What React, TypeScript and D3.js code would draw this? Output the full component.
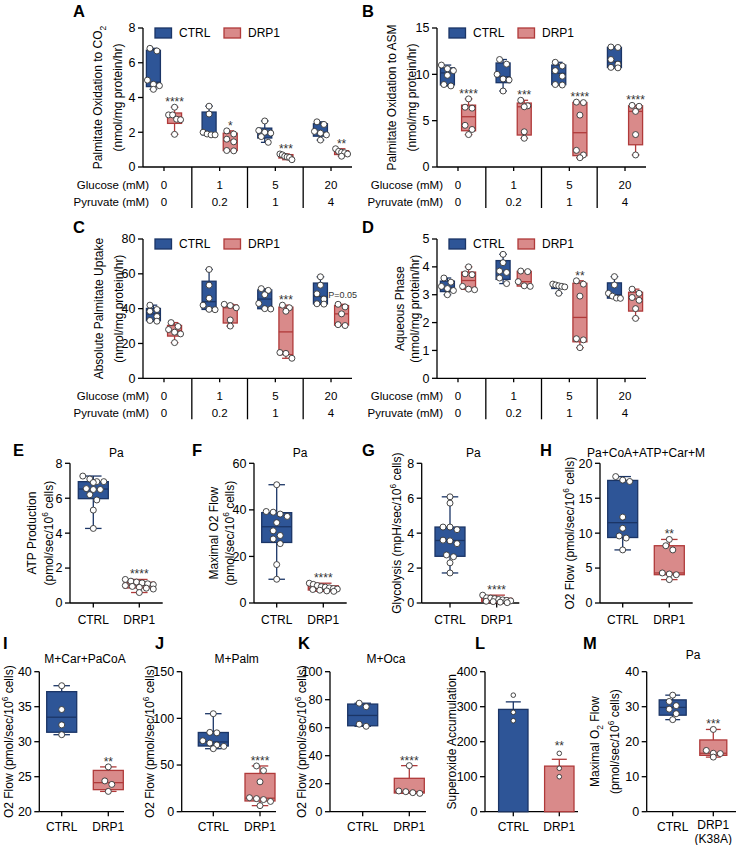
import React from "react";
import * as d3 from "d3";

// ---------------- data ----------------
const glucose = ["0", "1", "5", "20"];
const pyruvate = ["0", "0.2", "1", "4"];
const seriesNames = ["CTRL", "DRP1"];

const aCtrl = [[6.83, 6.68, 5.0, 4.76, 4.68, 4.47], [3.5, 3.05, 2.0, 1.9, 1.85, 1.85], [2.65, 2.1, 2.0, 1.95, 1.75, 1.42], [2.6, 2.45, 2.05, 1.95, 1.85, 1.55]];
const aDrp = [[3.44, 3.0, 3.0, 2.75, 2.72, 1.88], [2.08, 1.9, 1.6, 1.45, 0.95, 0.93], [0.75, 0.7, 0.62, 0.58, 0.55, 0.42], [1.05, 0.9, 0.85, 0.82, 0.75, 0.62]];
const aStars = ["****", "*", "***", "**"];

const bCtrl = [[11.0, 10.6, 10.4, 9.9, 8.9, 8.75], [11.6, 11.1, 10.0, 9.5, 9.4, 8.2], [11.3, 10.9, 10.4, 9.8, 8.9, 8.85], [12.95, 12.9, 11.6, 11.1, 10.75, 10.7]];
const bDrp = [[7.35, 6.45, 6.35, 4.5, 4.05, 3.5], [7.2, 6.6, 6.5, 3.8, 3.1], [7.0, 6.95, 5.6, 1.8, 1.3, 1.0], [6.65, 6.55, 6.0, 3.5, 1.3]];
const bStars = ["****", "***", "****", "****"];

const cCtrl = [[42, 39.5, 38.5, 35.5, 33.2, 32.8], [62.5, 53.5, 46, 42, 39.6, 39.4], [51.5, 50.5, 48, 43, 40, 39.8], [58.3, 53.5, 48.5, 45.5, 42.8, 42.6]];
const cDrp = [[32, 29.8, 28, 26.5, 25.5, 20.5], [42.5, 41.8, 40.5, 33.5, 30.0], [42, 40.5, 38.5, 14.8, 14.3, 11.5], [42.5, 41, 37, 30.8, 30.3]];
const cStars = ["", "", "***", "P=0.05"];

const dCtrl = [[3.6, 3.45, 3.3, 3.22, 3.15, 3.0], [4.45, 4.15, 3.85, 3.8, 3.6, 3.4], [3.38, 3.35, 3.32, 3.3, 3.28, 3.05], [3.65, 3.35, 3.05, 2.95, 2.88, 2.87]];
const dDrp = [[4.0, 3.75, 3.72, 3.3, 3.2, 3.18], [3.85, 3.83, 3.47, 3.32, 3.3], [3.5, 3.38, 2.95, 1.42, 1.38, 1.1], [3.2, 3.05, 2.9, 2.8, 2.5, 2.15]];
const dStars = ["", "", "**", ""];

const eCtrl = [7.27, 7.1, 6.95, 6.95, 6.9, 6.55, 6.5, 6.5, 6.2, 5.9, 5.32, 4.27];
const eDrp = [1.35, 1.25, 1.2, 1.15, 1.1, 1.05, 1.0, 0.95, 0.9, 0.85, 0.8, 0.6];
const fCtrl = [50.8, 39.3, 39, 38.2, 37.2, 34.5, 31, 29, 27.5, 25.5, 16.5, 10.2];
const fDrp = [8.5, 8, 7.5, 7, 6.8, 6.5, 6.2, 6, 5.8, 5.5, 5.2, 5];
const gCtrl = [6.08, 5.72, 4.35, 4.35, 4.2, 3.6, 3.56, 3.4, 2.75, 2.65, 2.3, 1.72];
const gDrp = [0.45, 0.3, 0.28, 0.25, 0.2, 0.18, 0.15, 0.12, 0.1, 0.08, 0.05, 0.02];
const hCtrl = [18.1, 17.6, 17.4, 12.3, 10.7, 9.6, 9.3, 7.6];
const hDrp = [9.1, 8.2, 7.6, 4.3, 4.15, 4.05, 3.35];
const iCtrl = [38, 34.6, 32.4, 31];
const iDrp = [26.4, 24.4, 23.9, 22.9];
const jCtrl = [105, 85, 84.5, 76, 73.5, 71.5, 70, 67.5];
const jDrp = [49, 44, 32, 15, 14, 13, 11, 6.5];
const kCtrl = [77.5, 75, 62.5, 61];
const kDrp = [32.9, 14.8, 14.3, 13.6, 13.1];
const lCtrl = [333, 284, 260];
const lDrp = [166.7, 124, 100];
const mCtrl = [33.3, 31.5, 30.3, 29.3, 28.0, 26.3];
const mDrp = [23.5, 17.5, 16.7, 16.6, 15.6];

// ---------------- style ----------------
const FONT = "'Liberation Sans', Arial, Helvetica, sans-serif";
const CTRL_FILL = "#2E5597";
const CTRL_STROKE = "#1B3566";
const DRP_FILL = "#D98A8A";
const DRP_STROKE = "#B03A3A";
const PT_STROKE = "#333";
const AX = "#000";
const SW = 1.3;

type Seg = { t: string; s?: "sub" | "sup" };

function quant(s: number[], p: number) {
  const n = s.length;
  const pos = p * (n + 1);
  if (pos <= 1) return s[0];
  if (pos >= n) return s[n - 1];
  const lo = Math.floor(pos);
  return s[lo - 1] + (pos - lo) * (s[lo] - s[lo - 1]);
}
function stats(vals: number[]) {
  const s = [...vals].sort((a, b) => a - b);
  return { min: s[0], max: s[s.length - 1], q1: quant(s, 0.25), med: quant(s, 0.5), q3: quant(s, 0.75) };
}
function swarm(vals: number[], y: (v: number) => number, r: number, maxHalf: number) {
  const pts = vals.map((v) => ({ v, py: y(v) })).sort((a, b) => a.py - b.py);
  const rows: { start: number; items: { v: number; py: number }[] }[] = [];
  let cur: any = null;
  for (const p of pts) {
    if (!cur || p.py - cur.start > 2 * r) {
      cur = { start: p.py, items: [] };
      rows.push(cur);
    }
    cur.items.push(p);
  }
  const out: { px: number; py: number }[] = [];
  rows.forEach((row) => {
    const k = row.items.length;
    const sp = k > 1 ? Math.min(2 * r + 1, (2 * maxHalf) / (k - 1)) : 0;
    row.items.forEach((p, j) => out.push({ px: (j - (k - 1) / 2) * sp, py: p.py }));
  });
  return out;
}

function Rich({ segs, fs }: { segs: Seg[]; fs: number }) {
  const parts: any[] = [];
  let shift = 0;
  segs.forEach((sg, i) => {
    let target = 0;
    if (sg.s === "sub") target = fs * 0.3;
    if (sg.s === "sup") target = -fs * 0.4;
    const dy = target - shift;
    shift = target;
    parts.push(
      <tspan key={i} dy={dy} fontSize={sg.s ? fs * 0.7 : fs}>
        {sg.t}
      </tspan>
    );
  });
  return <>{parts}</>;
}

function VText({ x, cy, segs, fs = 12 }: { x: number; cy: number; segs: Seg[]; fs?: number }) {
  return (
    <text transform={`translate(${x},${cy}) rotate(-90)`} y={fs * 0.35} textAnchor="middle" fontSize={fs} fontFamily={FONT} fill="#000">
      <Rich segs={segs} fs={fs} />
    </text>
  );
}

function T({ x, cy, children, fs = 12, anchor = "middle", weight = "normal", fill = "#000" }: any) {
  return (
    <text x={x} y={cy + fs * 0.35} textAnchor={anchor} fontSize={fs} fontFamily={FONT} fontWeight={weight} fill={fill}>
      {children}
    </text>
  );
}

function Box({ cx, w, vals, y, fill, stroke, r, star, starFs = 12 }: any) {
  const st = stats(vals);
  const capW = w * 0.55;
  const pts = swarm(vals, y, r, w / 2 - 1);
  return (
    <g>
      <line x1={cx} x2={cx} y1={y(st.max)} y2={y(st.q3)} stroke={stroke} strokeWidth={SW} />
      <line x1={cx} x2={cx} y1={y(st.q1)} y2={y(st.min)} stroke={stroke} strokeWidth={SW} />
      <line x1={cx - capW / 2} x2={cx + capW / 2} y1={y(st.max)} y2={y(st.max)} stroke={stroke} strokeWidth={SW} />
      <line x1={cx - capW / 2} x2={cx + capW / 2} y1={y(st.min)} y2={y(st.min)} stroke={stroke} strokeWidth={SW} />
      <rect x={cx - w / 2} y={y(st.q3)} width={w} height={Math.max(0.5, y(st.q1) - y(st.q3))} fill={fill} stroke={stroke} strokeWidth={SW} />
      <line x1={cx - w / 2} x2={cx + w / 2} y1={y(st.med)} y2={y(st.med)} stroke={stroke} strokeWidth={SW} />
      {pts.map((p, i) => (
        <circle key={i} cx={cx + p.px} cy={p.py} r={r} fill="#fff" stroke={PT_STROKE} strokeWidth={0.9} />
      ))}
      {star ? (
        star.startsWith("P") ? (
          <T x={cx + 1} cy={y(st.max) - 9} fs={9} fill="#333">{star}</T>
        ) : (
          <text x={cx} y={y(st.max) - 1} textAnchor="middle" fontSize={starFs} fontFamily={FONT} fill="#333">
            {star}
          </text>
        )
      ) : null}
    </g>
  );
}

function YAxis({ x, y, ticks, top, bot }: any) {
  return (
    <g>
      <line x1={x} x2={x} y1={top} y2={bot} stroke={AX} strokeWidth={SW} />
      {ticks.map((t: number) => (
        <g key={t}>
          <line x1={x - 5} x2={x} y1={y(t)} y2={y(t)} stroke={AX} strokeWidth={SW} />
          <T x={x - 7.5} cy={y(t)} fs={12.5} anchor="end">{t}</T>
        </g>
      ))}
    </g>
  );
}

function GroupPanel(p: any) {
  const y = d3.scaleLinear().domain(p.domain).range([p.bot, p.top]);
  const x = d3.scalePoint<string>().domain(glucose).range([p.ax0, p.ax1]).padding(0.377);
  const off = x.step() * 0.19;
  const centers = glucose.map((g) => x(g) as number);
  const seps = centers.slice(1).map((c, i) => (c + centers[i]) / 2);
  const ly = p.top;
  return (
    <g>
      <T x={p.labelX} cy={p.labelCy} fs={16.5} anchor="start" weight="bold">{p.label}</T>
      {p.yTitle.map((segs: Seg[], i: number) => (
        <VText key={i} x={p.yTitleX[i]} cy={(p.top + p.bot) / 2} segs={segs} />
      ))}
      <YAxis x={p.ax0} y={y} ticks={p.ticks} top={p.top} bot={p.bot} />
      <line x1={p.ax0} x2={p.ax1} y1={p.bot} y2={p.bot} stroke={AX} strokeWidth={SW} />
      {centers.map((c, i) => (
        <line key={"t" + i} x1={c} x2={c} y1={p.bot} y2={p.bot + 4} stroke={AX} strokeWidth={SW} />
      ))}
      {seps.map((s, i) => (
        <line key={"s" + i} x1={s} x2={s} y1={p.bot} y2={p.bot + 41} stroke={AX} strokeWidth={SW} />
      ))}
      <T x={p.ax0 + 6} cy={p.bot + 18} fs={11.5} anchor="end">Glucose (mM)</T>
      <T x={p.ax0 + 6} cy={p.bot + 34.5} fs={11.5} anchor="end">Pyruvate (mM)</T>
      {glucose.map((g, i) => (
        <g key={"v" + i}>
          <T x={centers[i]} cy={p.bot + 18} fs={11.5}>{g}</T>
          <T x={centers[i]} cy={p.bot + 34.5} fs={11.5}>{pyruvate[i]}</T>
        </g>
      ))}
      {/* legend */}
      <rect x={p.ax0 + 12} y={ly} width={16.5} height={10} fill={CTRL_FILL} stroke={CTRL_STROKE} strokeWidth={SW} />
      <T x={p.ax0 + 36} cy={ly + 5} fs={12} anchor="start">{seriesNames[0]}</T>
      <rect x={p.ax0 + 81} y={ly} width={16.5} height={10} fill={DRP_FILL} stroke={DRP_STROKE} strokeWidth={SW} />
      <T x={p.ax0 + 105} cy={ly + 5} fs={12} anchor="start">{seriesNames[1]}</T>
      {glucose.map((g, i) => (
        <g key={"b" + i}>
          <Box cx={centers[i] - off} w={14} vals={p.ctrl[i]} y={y} fill={CTRL_FILL} stroke={CTRL_STROKE} r={3} />
          <Box cx={centers[i] + off} w={14} vals={p.drp[i]} y={y} fill={DRP_FILL} stroke={DRP_STROKE} r={3} star={p.stars[i]} />
        </g>
      ))}
    </g>
  );
}

function PairPanel(p: any) {
  const y = d3.scaleLinear().domain(p.domain).range([p.bot, p.top]);
  const x = d3.scalePoint<string>().domain(seriesNames).range([p.ctrlX, p.drpX]);
  const w = p.boxW || 30;
  const xl = p.xLabels || seriesNames;
  return (
    <g>
      <T x={p.labelX} cy={p.labelCy} fs={16.5} anchor="start" weight="bold">{p.label}</T>
      {p.title ? <T x={(p.ctrlX + p.drpX) / 2} cy={p.titleCy} fs={12}>{p.title}</T> : null}
      {p.yTitle.map((segs: Seg[], i: number) => (
        <VText key={i} x={p.yTitleX[i]} cy={(p.top + p.bot) / 2} segs={segs} />
      ))}
      <YAxis x={p.axisX} y={y} ticks={p.ticks} top={p.top} bot={p.bot} />
      <line x1={p.axisX} x2={p.axisEnd} y1={p.bot} y2={p.bot} stroke={AX} strokeWidth={SW} />
      {seriesNames.map((s, i) => {
        const lines = xl[i].split("\n");
        const base = lines.length > 1 ? -1.5 : 0;
        return (
          <g key={s}>
            <line x1={x(s)} x2={x(s)} y1={p.bot} y2={p.bot + 4.5} stroke={AX} strokeWidth={SW} />
            {lines.map((ln: string, j: number) => (
              <T key={j} x={x(s)} cy={p.bot + p.xlOff + base + j * 13.8} fs={12}>{ln}</T>
            ))}
          </g>
        );
      })}
      {p.bar ? (
        <>
          <Bar cx={x("CTRL")} vals={p.ctrl} y={y} fill={CTRL_FILL} stroke={CTRL_STROKE} bot={p.bot} />
          <Bar cx={x("DRP1")} vals={p.drp} y={y} fill={DRP_FILL} stroke={DRP_STROKE} bot={p.bot} star={p.star} />
        </>
      ) : (
        <>
          <Box cx={x("CTRL")} w={w} vals={p.ctrl} y={y} fill={CTRL_FILL} stroke={CTRL_STROKE} r={3} />
          <Box cx={x("DRP1")} w={w} vals={p.drp} y={y} fill={DRP_FILL} stroke={DRP_STROKE} r={3} star={p.star} />
        </>
      )}
    </g>
  );
}

function Bar({ cx, vals, y, fill, stroke, bot, star }: any) {
  const mean = d3.mean(vals) as number;
  const sem = (d3.deviation(vals) as number) / Math.sqrt(vals.length);
  const w = 29.4;
  const top = Math.max(mean + sem, d3.max(vals) as number);
  return (
    <g>
      <rect x={cx - w / 2} y={y(mean)} width={w} height={bot - y(mean)} fill={fill} stroke={stroke} strokeWidth={SW} />
      <line x1={cx} x2={cx} y1={y(mean)} y2={y(mean + sem)} stroke={stroke} strokeWidth={SW} />
      <line x1={cx - 7.5} x2={cx + 7.5} y1={y(mean + sem)} y2={y(mean + sem)} stroke={stroke} strokeWidth={SW} />
      {vals.map((v: number, i: number) => (
        <circle key={i} cx={cx} cy={y(v)} r={2.3} fill="#fff" stroke={PT_STROKE} strokeWidth={0.9} />
      ))}
      {star ? (
        <text x={cx} y={y(top) - 3} textAnchor="middle" fontSize={12} fontFamily={FONT} fill="#333">{star}</text>
      ) : null}
    </g>
  );
}

const cells: Seg[] = [{ t: "(pmol/sec/10" }, { t: "6", s: "sup" }, { t: " cells)" }];
const nmol: Seg[] = [{ t: "(nmol/mg protein/hr)" }];

export default function App() {
  const R3 = { top: 463.3, bot: 603, labelCy: 450, titleCy: 452.5, xlOff: 16.5 };
  const R4 = { top: 671.7, bot: 811.7, labelCy: 643, titleCy: 658.3, xlOff: 15 };
  return (
    <svg width={740} height={845} style={{ position: "absolute", left: 0, top: 0, background: "#fff" }} fontFamily={FONT}>
      <rect width={740} height={845} fill="#fff" />
      <GroupPanel label="A" labelX={73} labelCy={11} ax0={143} ax1={352} top={28} bot={167} domain={[0, 8]} ticks={[0, 2, 4, 6, 8]}
        ctrl={aCtrl} drp={aDrp} stars={aStars}
        yTitle={[[{ t: "Palmitate Oxidation to CO" }, { t: "2", s: "sub" }], nmol]} yTitleX={[98, 118]} />
      <GroupPanel label="B" labelX={362} labelCy={11} ax0={437} ax1={646} top={28} bot={167} domain={[0, 15]} ticks={[0, 5, 10, 15]}
        ctrl={bCtrl} drp={bDrp} stars={bStars}
        yTitle={[[{ t: "Palmitate Oxidation to ASM" }], nmol]} yTitleX={[392, 412]} />
      <GroupPanel label="C" labelX={73} labelCy={227.5} ax0={143} ax1={352} top={239} bot={378.3} domain={[0, 80]} ticks={[0, 20, 40, 60, 80]}
        ctrl={cCtrl} drp={cDrp} stars={cStars}
        yTitle={[[{ t: "Absolute Palmitate Uptake" }], nmol]} yTitleX={[98.3, 118.3]} />
      <GroupPanel label="D" labelX={362} labelCy={227.5} ax0={437} ax1={646} top={239} bot={378.3} domain={[0, 5]} ticks={[0, 1, 2, 3, 4, 5]}
        ctrl={dCtrl} drp={dDrp} stars={dStars}
        yTitle={[[{ t: "Aqueous Phase" }], nmol]} yTitleX={[400, 415]} />

      <PairPanel {...R3} label="E" labelX={13} axisX={70} axisEnd={162.7} ctrlX={93.3} drpX={139.3} domain={[0, 8]} ticks={[0, 2, 4, 6, 8]}
        ctrl={eCtrl} drp={eDrp} star="****" title="Pa" yTitle={[[{ t: "ATP Production" }], cells]} yTitleX={[31.7, 48.3]} />
      <PairPanel {...R3} label="F" labelX={192} axisX={254} axisEnd={346.7} ctrlX={276.7} drpX={323.3} domain={[0, 60]} ticks={[0, 20, 40, 60]}
        ctrl={fCtrl} drp={fDrp} star="****" title="Pa" yTitle={[[{ t: "Maximal O2 Flow" }], cells]} yTitleX={[213.3, 230]} />
      <PairPanel {...R3} label="G" labelX={362} axisX={421.7} axisEnd={519.3} ctrlX={450} drpX={496.7} domain={[0, 8]} ticks={[0, 2, 4, 6, 8]}
        ctrl={gCtrl} drp={gDrp} star="****" title="Pa" yTitle={[[{ t: "Glycolysis (mpH/sec/10" }, { t: "6", s: "sup" }, { t: " cells)" }]]} yTitleX={[396.7]} />
      <PairPanel {...R3} label="H" labelX={540} axisX={600} axisEnd={692.7} ctrlX={622.7} drpX={669.3} domain={[0, 20]} ticks={[0, 5, 10, 15, 20]}
        ctrl={hCtrl} drp={hDrp} star="**" title="Pa+CoA+ATP+Car+M" yTitle={[[{ t: "O2 Flow (pmol/sec/10" }, { t: "6", s: "sup" }, { t: " cells)" }]]} yTitleX={[569.3]} />

      <PairPanel {...R4} label="I" labelX={3} axisX={39.3} axisEnd={124} ctrlX={61.7} drpX={108.3} domain={[20, 40]} ticks={[20, 25, 30, 35, 40]}
        ctrl={iCtrl} drp={iDrp} star="**" title="M+Car+PaCoA" yTitle={[[{ t: "O2 Flow (pmol/sec/10" }, { t: "6", s: "sup" }, { t: " cells)" }]]} yTitleX={[8.3]} />
      <PairPanel {...R4} label="J" labelX={155} axisX={181.7} axisEnd={276} ctrlX={213.3} drpX={260} domain={[0, 150]} ticks={[0, 50, 100, 150]}
        ctrl={jCtrl} drp={jDrp} star="****" title="M+Palm" yTitle={[[{ t: "O2 Flow (pmol/sec/10" }, { t: "6", s: "sup" }, { t: " cells)" }]]} yTitleX={[150]} />
      <PairPanel {...R4} label="K" labelX={298} axisX={330} axisEnd={426} ctrlX={362.7} drpX={409.3} domain={[0, 100]} ticks={[0, 20, 40, 60, 80, 100]}
        ctrl={kCtrl} drp={kDrp} star="****" title="M+Oca" yTitle={[[{ t: "O2 Flow (pmol/sec/10" }, { t: "6", s: "sup" }, { t: " cells)" }]]} yTitleX={[301.7]} />
      <PairPanel {...R4} label="L" labelX={475} axisX={485} axisEnd={578} ctrlX={513.3} drpX={559.3} domain={[0, 400]} ticks={[0, 100, 200, 300, 400]}
        ctrl={lCtrl} drp={lDrp} star="**" bar yTitle={[[{ t: "Superoxide Accumulation" }]]} yTitleX={[451.7]} />
      <PairPanel {...R4} label="M" labelX={583} titleCy={655} axisX={646.7} axisEnd={736} ctrlX={672.7} drpX={713.3} domain={[0, 40]} ticks={[0, 10, 20, 30, 40]} boxW={27}
        ctrl={mCtrl} drp={mDrp} star="***" title="Pa" xLabels={["CTRL", "DRP1\n(K38A)"]}
        yTitle={[[{ t: "Maximal O" }, { t: "2", s: "sub" }, { t: " Flow" }], cells]} yTitleX={[595, 615]} />
    </svg>
  );
}
